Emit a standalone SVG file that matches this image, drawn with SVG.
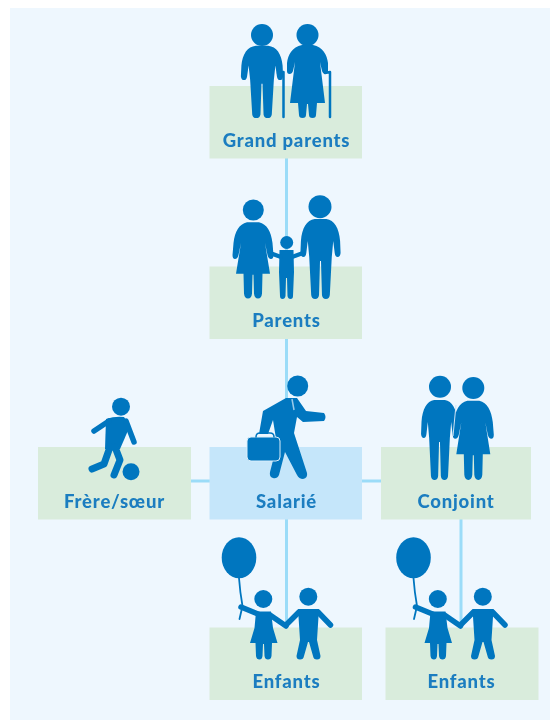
<svg xmlns="http://www.w3.org/2000/svg" width="550" height="720" viewBox="0 0 550 720">
<style>
.g{fill:#d9ecdc}.s{fill:#c5e6fa}
.c{fill:none;stroke:#9bdcf8;stroke-width:3}
.i{fill:#0076bf}
.l{fill:none;stroke:#0076bf;stroke-linecap:round;stroke-linejoin:round}
text{font-family:"Lato","Liberation Sans",sans-serif;font-weight:900;font-size:18.500px;letter-spacing:.8px;fill:#1a7dc0;text-anchor:middle;filter:url(#softer)}
</style>
<defs>
<filter id="soft" x="0" y="0" width="550" height="720" filterUnits="userSpaceOnUse"><feGaussianBlur stdDeviation="0.6"/></filter>
<filter id="softer" x="-10%" y="-30%" width="120%" height="160%"><feGaussianBlur stdDeviation="0.5"/></filter>
<path id="man" class="i" d="M-6 24H6C14 25 19 33 20 46L20.500 58Q20 62 17.500 62Q15 62 14.500 58L13 46L11.500 62L9.500 100Q9 104 5.500 104Q2 104 1.500 100L.5 66H-.5L-1.500 100Q-2 104-5.500 104Q-9 104-9.500 100L-11.500 62L-13 46L-14.500 58Q-15 62-17.500 62Q-20 62-20.500 58L-20 46C-19 33-14 25-6 24Z"/>
<path id="woman" class="i" d="M-6 23H6C14 25 18 32 19.500 44L20.500 56Q20.500 60 18 60Q15.500 60 14.500 56L12 44L17 75H9.500L9 95Q8.500 100 5 100Q1.500 100 1 95L.5 76H-.5L-1 95Q-1.500 100-5 100Q-8.500 100-9 95L-9.500 75H-17L-12 44L-14.500 56Q-15.500 60-18 60Q-20.500 60-20.500 56L-19.500 44C-18 32-14 25-6 23Z"/>
<g id="kids">
<ellipse class="i" cx="239" cy="557.700" rx="17.300" ry="20.500"/>
<path class="l" stroke-width="1.800" d="M239 578Q240 592 242.500 606L239.500 619"/>
<circle class="i" cx="263.300" cy="599" r="9"/>
<path class="i" d="M256 611.500H271L273 628L277.500 643H272L271.500 656Q271 659.500 268 659.500Q265 659.500 264.500 656L264 644H263L262.500 656Q262 659.500 259.500 659.500Q256.500 659.500 256 656L255.500 643H250L254.500 628Z"/>
<path class="l" stroke-width="5.500" d="M258 614L241 607M270 615L286 626"/>
<circle class="i" cx="308.300" cy="596.700" r="9"/>
<path class="i" d="M298 609H319L317 640L320.500 656Q320.500 659.500 317 659.500Q313.500 659.500 313 656L309 642H308L304 656Q303.500 659.500 300 659.500Q296.500 659.500 296.500 656L300 640Z"/>
<path class="l" stroke-width="5.500" d="M299 612L286 625M318 612L330.500 625"/>
</g>
</defs>
<rect x="10" y="8" width="540" height="712" fill="#eef7fe"/>
<g filter="url(#soft)">
<g id="connectors" class="c">
<path d="M286.500 158V627.500"/><path d="M191 481H381"/><path d="M461 519V627.500"/>
</g>
<g id="grand-parents">
<rect class="g" x="209.500" y="86" width="152.500" height="72.500"/>
<circle class="i" cx="262" cy="35" r="11"/>
<use href="#man" transform="translate(262 24) scale(1.030 .904)"/>
<circle class="i" cx="307.500" cy="35" r="11"/>
<path class="i" d="M302 45H313C323 47 327 55 328 63L328 71Q328 74 325.500 74Q323 74 322 71L320 62L325 103H317L316 115Q316 118 312.500 118Q309 118 309 115L308 104H307L306 115Q306 118 302.500 118Q299 118 299 115L298 103H290L295 62L293 71Q292 74 289.500 74Q287 74 287 71L287 63C288 55 292 47 302 45Z"/>
<path class="l" stroke-width="2.500" d="M278 73L283.500 72V117M325 73L330 72V117"/>
<text x="286.500" y="146.500">Grand parents</text>
</g>
<g id="parents">
<rect class="g" x="209.500" y="266.500" width="152.500" height="72.500"/>
<circle class="i" cx="253.300" cy="210" r="10.500"/>
<use href="#woman" transform="translate(253 199.500) scale(1 .990)"/>
<circle class="i" cx="320" cy="206.700" r="11.500"/>
<use href="#man" transform="translate(320.500 195) scale(.980 1)"/>
<circle class="i" cx="286.700" cy="242.500" r="6.500"/>
<path class="i" d="M279.500 250H293.500L294 272L293 296Q293 299 290.500 299Q288 299 287.500 296L287 278H286L285.500 296Q285 299 282.500 299Q280 299 280 296L279 272Z"/>
<path class="l" stroke-width="4" d="M270 253L281 257M292 257L303 253"/>
<text x="286.500" y="327">Parents</text>
</g>
<g id="frere-soeur">
<rect class="g" x="38" y="447" width="153" height="72.500"/>
<circle class="i" cx="121" cy="406.700" r="9"/>
<path class="i" d="M106 419Q115 416 124 417L130 426L120 449H105Z"/>
<path class="l" stroke-width="5.500" d="M109 421L94 431M126 421L134 442"/>
<path class="l" stroke-width="7" d="M110 447L104 464L92 469M115 447L120 460L114 475"/>
<circle class="i" cx="131" cy="471.700" r="8.500"/>
<text x="114.500" y="508">Frère/sœur</text>
</g>
<g id="salarie">
<rect class="s" x="209.500" y="447" width="152.500" height="72.500"/>
<circle class="i" cx="297.700" cy="386" r="10.500"/>
<path class="i" d="M286 398H297L306 411L324 413Q327 417 324 421L303 422L297 417L294 433L307 473Q308 478 303 479Q299 479 297 475L285 452L279 475Q277 479 273 478Q269 477 270 472L277 445L273 420L268 434L259 434L263 411Z"/>
<rect x="247" y="437" width="33" height="24" rx="4" class="i" stroke="#d9eefb" stroke-width="1"/>
<path class="l" stroke-width="1.500" d="M256 437Q256 433 260 433H270Q274 433 274 437"/>
<path d="M292 399L294 410" stroke="#9ccbea" stroke-width="1.500"/>
<text x="286.500" y="508">Salarié</text>
</g>
<g id="conjoint">
<rect class="g" x="381" y="447" width="150" height="72.500"/>
<circle class="i" cx="440" cy="386.700" r="11"/>
<use href="#man" transform="translate(439.500 376) scale(.9 1)"/>
<circle class="i" cx="473.300" cy="388" r="11"/>
<use href="#woman" transform="translate(473.300 377) scale(1 1.030)"/>
<path d="M456 405L453 436" stroke="#cfe4f5" stroke-width="1" fill="none"/>
<text x="456" y="508">Conjoint</text>
</g>
<g id="enfants-1">
<rect class="g" x="209.500" y="627.500" width="152.500" height="72.500"/>
<use href="#kids"/>
<text x="286.500" y="688">Enfants</text>
</g>
<g id="enfants-2">
<rect class="g" x="385.500" y="627.500" width="153" height="72.500"/>
<use href="#kids" transform="translate(174.500 0)"/>
<text x="461.500" y="688">Enfants</text>
</g>
</g>
</svg>
